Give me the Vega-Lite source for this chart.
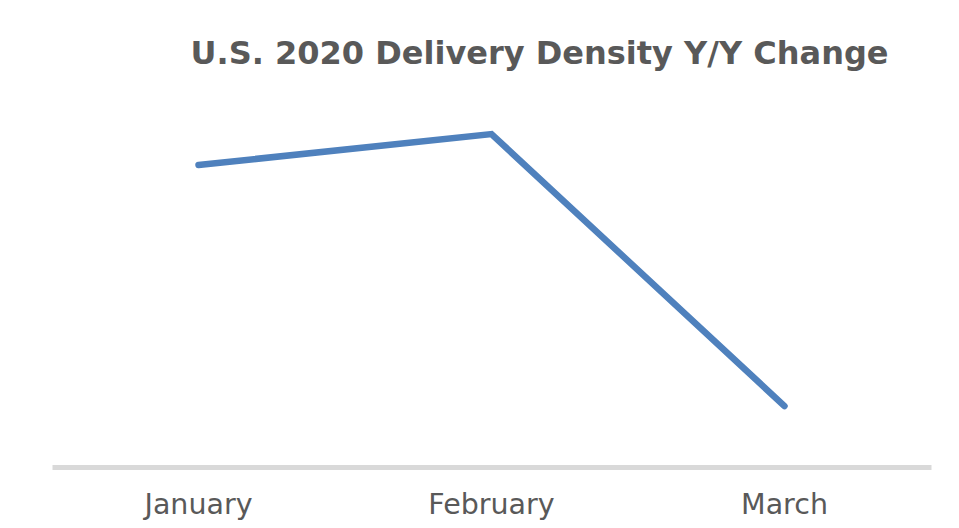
{
  "$schema": "https://vega.github.io/schema/vega-lite/v6.json",
  "autosize": "none",
  "width": 879,
  "height": 367,
  "padding": {"left": 52, "top": 100, "right": 28, "bottom": 61},
  "background": "white",
  "title": {
    "text": "U.S. 2020 Delivery Density Y/Y Change",
    "font": "DejaVu Sans",
    "fontSize": 32,
    "fontWeight": "bold",
    "color": "#595959",
    "anchor": "middle",
    "dx": 48,
    "baseline": "alphabetic",
    "offset": 4
  },
  "data": {
    "values": [
      {"month": "January", "value": 8.23},
      {"month": "February", "value": 9.07},
      {"month": "March", "value": 1.66}
    ]
  },
  "mark": {"type": "line", "color": "#4f81bd", "strokeWidth": 6.5, "strokeCap": "round", "strokeJoin": "miter"},
  "encoding": {
    "x": {
      "field": "month",
      "type": "nominal",
      "sort": ["January", "February", "March"],
      "scale": {"type": "band", "paddingInner": 0, "paddingOuter": 0},
      "axis": {
        "title": null,
        "ticks": false,
        "grid": false,
        "domainColor": "#d9d9d9",
        "domainWidth": 5,
        "labelFont": "DejaVu Sans",
        "labelFontSize": 28.5,
        "labelColor": "#595959",
        "labelAngle": 0,
        "labelBaseline": "alphabetic",
        "labelPadding": 46
      }
    },
    "y": {
      "field": "value",
      "type": "quantitative",
      "scale": {"domain": [0, 10], "zero": true, "nice": false},
      "axis": null
    }
  },
  "config": {"view": {"stroke": null}}
}
